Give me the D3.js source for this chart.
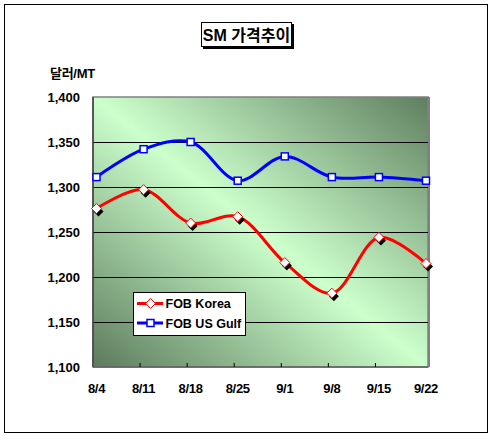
<!DOCTYPE html>
<html>
<head>
<meta charset="utf-8">
<script src="https://cdn.jsdelivr.net/npm/d3@7"></script>
<style>
  body { margin: 0; background: #fff; }
  text { font-family: "Liberation Sans", Arial, "Noto Sans CJK KR", sans-serif; font-weight: bold; }
</style>
</head>
<body>
<script>
// weekly dates on the x axis
var dates = ['8/4', '8/11', '8/18', '8/25', '9/1', '9/8', '9/15', '9/22'];
// FOB Korea price, $/MT
var korea = [1276, 1297, 1260, 1267, 1216, 1182, 1244, 1215];
// FOB US Gulf price, $/MT
var usGulf = [1311, 1342, 1350, 1307, 1334, 1311, 1311, 1307];
var yTicks = [1100, 1150, 1200, 1250, 1300, 1350, 1400];

var W = 493, H = 441;
var svg = d3.select('body').append('svg').attr('width', W).attr('height', H);

// plot area box
var plotL = 93, plotT = 97, plotR = 428, plotB = 367;

var x = d3.scalePoint().domain(dates).range([96.5, 426]);
var y = d3.scaleLinear().domain([1100, 1400]).range([plotB, plotT]);

// outer frame
svg.append('rect').attr('x', 4.5).attr('y', 4.5).attr('width', 483).attr('height', 428)
  .attr('fill', '#fff').attr('stroke', '#000').attr('stroke-width', 1);

// background gradient, dark corners and a light diagonal band
var defs = svg.append('defs');
var grad = defs.append('linearGradient').attr('id', 'bg')
  .attr('x1', 0).attr('y1', 1).attr('x2', 1).attr('y2', 0);
grad.append('stop').attr('offset', '0%').attr('stop-color', '#5c7b5c');
grad.append('stop').attr('offset', '50%').attr('stop-color', '#ccffcc');
grad.append('stop').attr('offset', '100%').attr('stop-color', '#5f7f5f');

// shadow at right of plot
svg.append('rect').attr('x', plotR).attr('y', plotT).attr('width', 2).attr('height', plotB - plotT)
  .attr('fill', '#808080');
svg.append('rect').attr('x', plotL).attr('y', plotT).attr('width', plotR - plotL).attr('height', plotB - plotT)
  .attr('fill', 'url(#bg)').attr('stroke', '#808080').attr('stroke-width', 1.5);

// gridlines
svg.selectAll('.grid').data(yTicks.slice(1, -1)).enter().append('line')
  .attr('x1', plotL).attr('x2', plotR)
  .attr('y1', function(d) { return Math.round(y(d)) + 0.5; })
  .attr('y2', function(d) { return Math.round(y(d)) + 0.5; })
  .attr('stroke', '#000').attr('stroke-width', 1);

// axis lines
svg.append('line').attr('x1', plotL).attr('x2', plotL).attr('y1', plotT).attr('y2', plotB)
  .attr('stroke', '#404040').attr('stroke-width', 1.5);
svg.append('line').attr('x1', plotL).attr('x2', plotR).attr('y1', plotB).attr('y2', plotB)
  .attr('stroke', '#606060').attr('stroke-width', 1.5);

// x tick marks between points
svg.selectAll('.xtick').data(dates.slice(1, -1)).enter().append('line')
  .attr('x1', function(d) { return x(d) - 3.5; })
  .attr('x2', function(d) { return x(d) - 3.5; })
  .attr('y1', plotB - 4).attr('y2', plotB)
  .attr('stroke', '#000').attr('stroke-width', 1);

// y tick labels
svg.selectAll('.ylab').data(yTicks).enter().append('text')
  .attr('x', 80).attr('y', function(d) { return y(d) + 5; })
  .attr('text-anchor', 'end').attr('font-size', 13)
  .text(function(d) { return d3.format(',')(d); });

// x tick labels
svg.selectAll('.xlab').data(dates).enter().append('text')
  .attr('x', function(d) { return x(d); }).attr('y', 393)
  .attr('text-anchor', 'middle').attr('font-size', 13).attr('letter-spacing', -0.3)
  .text(function(d) { return d; });

// unit label
svg.append('text').attr('x', 50).attr('y', 78).attr('font-size', 13).attr('letter-spacing', -0.3)
  .text('달러/MT');

// smoothed lines
var line = d3.line()
  .x(function(d, i) { return x(dates[i]); })
  .y(function(d) { return y(d); })
  .curve(d3.curveCatmullRom.alpha(0.5));

svg.append('path').attr('d', line(usGulf)).attr('fill', 'none')
  .attr('stroke', '#0000ff').attr('stroke-width', 3);
svg.append('path').attr('d', line(korea)).attr('fill', 'none')
  .attr('stroke', '#ff0000').attr('stroke-width', 3);

// diamond markers with a black drop shadow
function diamond(g, cx, cy, r) {
  return g.append('path').attr('d', 'M' + cx + ',' + (cy - r) + 'L' + (cx + r) + ',' + cy +
    'L' + cx + ',' + (cy + r) + 'L' + (cx - r) + ',' + cy + 'Z');
}
korea.forEach(function(v, i) {
  var cx = x(dates[i]), cy = y(v);
  diamond(svg, cx + 2, cy + 3, 5).attr('fill', '#000');
  diamond(svg, cx, cy, 5).attr('fill', '#fff').attr('stroke', '#ff0000').attr('stroke-width', 1);
});

// square markers
usGulf.forEach(function(v, i) {
  svg.append('rect').attr('x', x(dates[i]) - 3.5).attr('y', y(v) - 3.5)
    .attr('width', 7).attr('height', 7)
    .attr('fill', '#fff').attr('stroke', '#0000ff').attr('stroke-width', 1.5);
});

// legend
var lg = svg.append('g');
lg.append('rect').attr('x', 133.5).attr('y', 292.5).attr('width', 112).attr('height', 43)
  .attr('fill', '#fff').attr('stroke', '#000').attr('stroke-width', 1);
var series = [
  { name: 'FOB Korea', color: '#ff0000', shape: 'diamond', y: 303.5 },
  { name: 'FOB US Gulf', color: '#0000ff', shape: 'square', y: 323 }
];
series.forEach(function(s) {
  lg.append('line').attr('x1', 137).attr('x2', 163).attr('y1', s.y).attr('y2', s.y)
    .attr('stroke', s.color).attr('stroke-width', 3);
  if (s.shape === 'diamond') {
    diamond(lg, 150.5, s.y, 5).attr('fill', '#fff').attr('stroke', s.color).attr('stroke-width', 1);
  } else {
    lg.append('rect').attr('x', 147).attr('y', s.y - 3.5).attr('width', 7).attr('height', 7)
      .attr('fill', '#fff').attr('stroke', s.color).attr('stroke-width', 1.5);
  }
  lg.append('text').attr('x', 165.5).attr('y', s.y + 4.5).attr('font-size', 12.5)
    .text(s.name);
});

// title box with shadow
svg.append('rect').attr('x', 203).attr('y', 24).attr('width', 91).attr('height', 25).attr('fill', '#000');
svg.append('rect').attr('x', 201.5).attr('y', 22.5).attr('width', 90).attr('height', 24)
  .attr('fill', '#fff').attr('stroke', '#000').attr('stroke-width', 1);
svg.append('text').attr('x', 246.5).attr('y', 40.5).attr('text-anchor', 'middle')
  .attr('font-size', 16).text('SM 가격추이');
</script>
</body>
</html>
